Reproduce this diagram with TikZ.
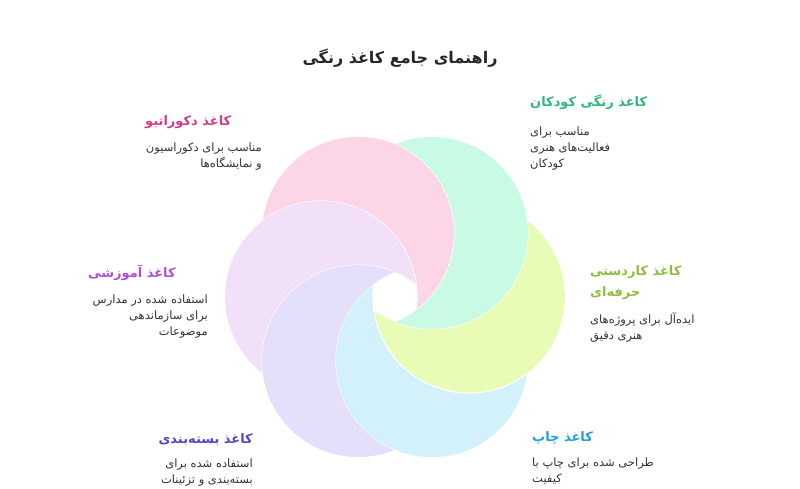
\documentclass[tikz,border=0pt]{standalone}
\usepackage{fontspec}
\newfontfamily\arabicfont[Script=Arabic]{DejaVu Sans}
\TeXXeTstate=1
\newcommand\rtl[1]{\beginR #1\endR}

\definecolor{petYellow}{HTML}{E9FCB6}
\definecolor{petMint}{HTML}{C9FAE4}
\definecolor{petPink}{HTML}{FCD6E6}
\definecolor{petLav}{HTML}{F2DFF8}
\definecolor{petViolet}{HTML}{E4DFFA}
\definecolor{petBlue}{HTML}{D3F1FA}
\definecolor{hdPink}{HTML}{D13C8A}
\definecolor{hdMint}{HTML}{2DB87A}
\definecolor{hdYellow}{HTML}{8DBE3C}
\definecolor{hdLav}{HTML}{B24ED6}
\definecolor{hdViolet}{HTML}{5046C8}
\definecolor{hdBlue}{HTML}{1E9FD8}
\definecolor{txt}{HTML}{333333}

\begin{document}
\begin{tikzpicture}
	[x=1pt,y=1pt,
	every node/.style={inner sep=0pt},
	head/.style={font=\arabicfont\bfseries\fontsize{13}{21}\selectfont},
	desc/.style={font=\arabicfont\fontsize{11.5}{16}\selectfont,text=txt}]
	\useasboundingbox (0,0) rectangle (800,488);
	\coordinate (O) at (395,191);
	% petals: each circle minus the next one
	\begin{scope}[shift={(O)}]
	\foreach \a/\b/\col in {0/60/petYellow,60/120/petMint,120/180/petPink,180/240/petLav,240/300/petViolet,300/360/petBlue}{
		\begin{scope}
		\clip (\a:74) circle (96);
		\fill [\col,even odd rule] (\a:74) circle (96) (\b:74) circle (96);
		\draw [white,line width=1.2pt] (\b:74) circle (96);
		\end{scope}
	}
	\end{scope}
	\node (title) [font=\arabicfont\bfseries\fontsize{16}{20}\selectfont,text=black!85] at (400,430) {\rtl{راهنمای جامع کاغذ رنگی}};
	\node (decoH) [head,text=hdPink,anchor=west] at (145,366) {\rtl{کاغذ دکوراتیو}};
	\node (decoD) [desc,align=right,anchor=north east] at (262,345) {\rtl{مناسب برای دکوراسیون}\\\rtl{و نمایشگاه‌ها}};
	\node (kidsH) [head,text=hdMint,anchor=west] at (530,386) {\rtl{کاغذ رنگی کودکان}};
	\node (kidsD) [desc,align=left,anchor=north west] at (530,361) {\rtl{مناسب برای}\\\rtl{فعالیت‌های هنری}\\\rtl{کودکان}};
	\node (craftH) [head,text=hdYellow,align=left,anchor=north west] at (590,223) {\rtl{کاغذ کاردستی}\\\rtl{حرفه‌ای}};
	\node (craftD) [desc,align=left,anchor=north west] at (590,175) {\rtl{ایده‌آل برای پروژه‌های}\\\rtl{هنری دقیق}};
	\node (eduH) [head,text=hdLav,anchor=west] at (88,215) {\rtl{کاغذ آموزشی}};
	\node (eduD) [desc,align=right,anchor=north east] at (208,193) {\rtl{استفاده شده در مدارس}\\\rtl{برای سازماندهی}\\\rtl{موضوعات}};
	\node (packH) [head,text=hdViolet,anchor=east] at (253,48) {\rtl{کاغذ بسته‌بندی}};
	\node (packD) [desc,align=right,anchor=north east] at (253,29) {\rtl{استفاده شده برای}\\\rtl{بسته‌بندی و تزئینات}};
	\node (printH) [head,text=hdBlue,anchor=west] at (532,50) {\rtl{کاغذ چاپ}};
	\node (printD) [desc,align=left,anchor=north west] at (532,30) {\rtl{طراحی شده برای چاپ با}\\\rtl{کیفیت}};
\end{tikzpicture}
\end{document}
